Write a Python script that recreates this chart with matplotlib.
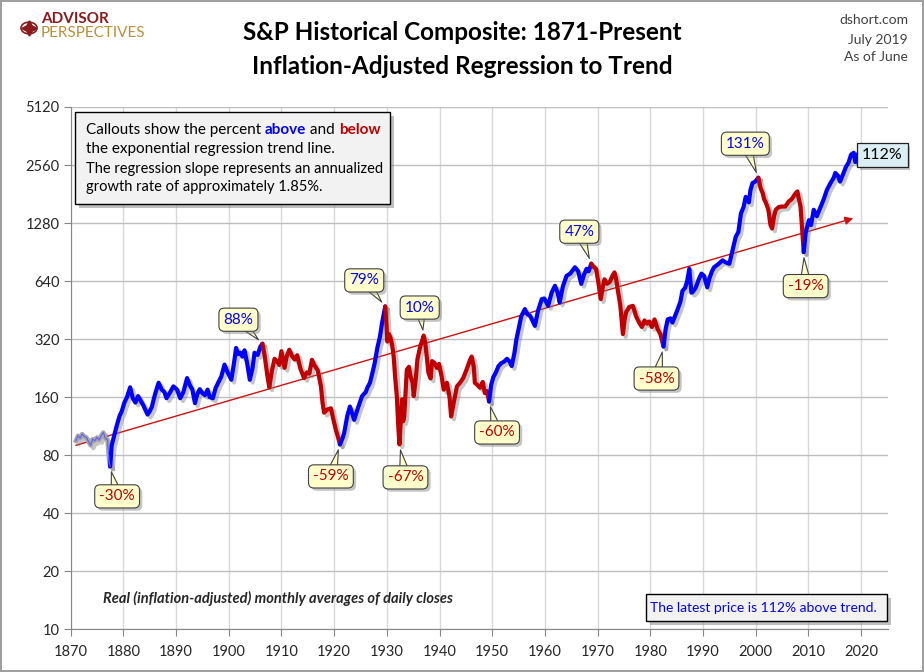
import numpy as np
import matplotlib
matplotlib.use("Agg")
import matplotlib.pyplot as plt
import matplotlib.patheffects as pe
from matplotlib.patches import FancyBboxPatch, Circle
from matplotlib.text import Annotation

plt.rcParams["font.family"] = ["Lato", "DejaVu Sans"]

# real (inflation-adjusted) S&P composite
years = [
    1871.0, 1871.4, 1871.8, 1872.2, 1872.6, 1873.0, 1873.4, 1873.8, 1874.2, 1874.6,
    1875.0, 1875.4, 1875.8, 1876.2, 1876.6, 1877.0, 1877.3, 1877.5, 1877.8, 1878.3,
    1878.8, 1879.3, 1879.7, 1880.2, 1880.7, 1881.3, 1881.8, 1882.3, 1882.8, 1883.2,
    1883.8, 1884.6, 1885.0, 1885.4, 1886.0, 1886.7, 1887.3, 1887.8, 1888.2, 1888.8,
    1889.5, 1890.2, 1890.8, 1891.4, 1892.1, 1892.6, 1893.1, 1893.6, 1894.0, 1894.5,
    1895.0, 1895.5, 1896.0, 1896.4, 1897.0, 1897.5, 1898.0, 1898.6, 1899.2, 1899.7,
    1900.5, 1901.0, 1901.4, 1901.8, 1902.2, 1902.6, 1903.0, 1903.5, 1904.0, 1904.5,
    1904.9, 1905.5, 1906.0, 1906.4, 1906.8, 1907.3, 1907.7, 1908.2, 1908.7, 1909.2,
    1909.6, 1910.0, 1910.6, 1911.0, 1911.5, 1912.0, 1912.5, 1913.0, 1913.6, 1914.3,
    1914.8, 1915.3, 1915.8, 1916.2, 1916.9, 1917.5, 1917.8, 1918.1, 1918.7, 1919.4,
    1919.7, 1920.3, 1920.7, 1921.1, 1921.6, 1921.9, 1922.5, 1923.0, 1923.5, 1923.8,
    1924.5, 1925.3, 1926.0, 1926.3, 1926.8, 1927.2, 1927.7, 1928.2, 1928.7, 1929.1,
    1929.7, 1929.9, 1930.1, 1930.4, 1930.7, 1931.0, 1931.3, 1931.6, 1931.9, 1932.2,
    1932.4, 1932.7, 1932.9, 1933.1, 1933.3, 1933.8, 1934.2, 1934.5, 1934.9, 1935.1,
    1935.5, 1935.8, 1936.3, 1937.0, 1937.3, 1937.9, 1938.3, 1938.6, 1939.1, 1939.5,
    1939.9, 1940.4, 1940.8, 1941.4, 1941.9, 1942.2, 1942.7, 1943.3, 1943.9, 1944.5,
    1945.2, 1945.8, 1946.1, 1946.5, 1946.7, 1947.2, 1947.7, 1948.2, 1948.6, 1949.0,
    1949.4, 1949.8, 1950.2, 1950.7, 1951.2, 1951.7, 1952.3, 1952.8, 1953.3, 1953.7,
    1954.2, 1954.6, 1955.0, 1955.5, 1956.2, 1956.7, 1957.2, 1957.8, 1958.1, 1958.7,
    1959.4, 1959.9, 1960.6, 1961.3, 1961.9, 1962.4, 1962.8, 1963.4, 1964.1, 1964.8,
    1965.7, 1966.3, 1966.9, 1967.4, 1967.9, 1968.3, 1968.8, 1969.2, 1969.7, 1970.1,
    1970.6, 1971.0, 1971.3, 1971.8, 1972.3, 1972.8, 1973.2, 1973.5, 1973.8, 1974.3,
    1974.8, 1975.1, 1975.4, 1976.0, 1976.7, 1977.3, 1977.9, 1978.4, 1978.9, 1979.4,
    1979.8, 1980.3, 1980.8, 1981.4, 1981.9, 1982.5, 1982.9, 1983.3, 1983.8, 1984.2,
    1984.7, 1985.2, 1985.7, 1986.1, 1986.6, 1987.0, 1987.4, 1987.8, 1988.0, 1988.6,
    1989.2, 1989.7, 1990.2, 1990.8, 1991.2, 1991.7, 1992.1, 1992.8, 1993.7, 1994.3,
    1995.0, 1995.5, 1996.2, 1996.7, 1997.2, 1997.7, 1998.1, 1998.7, 1999.0, 1999.4,
    1999.9, 2000.2, 2000.5, 2000.9, 2001.3, 2001.6, 2001.9, 2002.4, 2002.8, 2003.1,
    2003.5, 2003.8, 2004.4, 2005.0, 2005.6, 2006.3, 2006.8, 2007.4, 2007.9, 2008.2,
    2008.5, 2008.8, 2009.1, 2009.5, 2010.1, 2010.5, 2011.0, 2011.6, 2012.0, 2012.9,
    2013.5, 2014.2, 2014.8, 2015.1, 2015.6, 2016.0, 2016.6, 2017.1, 2017.6, 2018.1,
    2018.6, 2018.9, 2019.1, 2019.5,
]
prices = [
    95, 101, 98, 103, 100, 99, 94, 90, 97, 95,
    99, 96, 101, 105, 98, 96, 75, 70, 90, 102,
    115, 128, 135, 150, 160, 180, 158, 150, 162, 155,
    145, 130, 135, 142, 165, 190, 175, 170, 158, 168,
    182, 175, 158, 170, 201, 185, 175, 149, 165, 176,
    168, 164, 175, 160, 158, 178, 190, 205, 236, 218,
    197, 240, 288, 268, 272, 260, 280, 240, 197, 225,
    272, 265, 292, 303, 265, 210, 180, 220, 253, 245,
    235, 277, 227, 260, 282, 262, 251, 264, 225, 201,
    215, 212, 250, 236, 220, 182, 150, 133, 138, 140,
    128, 109, 100, 91, 98, 104, 128, 143, 130, 122,
    140, 162, 170, 179, 190, 210, 240, 288, 330, 388,
    473, 400, 311, 340, 325, 300, 260, 200, 162, 110,
    91, 130, 156, 120, 127, 222, 230, 205, 190, 162,
    200, 251, 290, 334, 305, 214, 200, 246, 240, 227,
    238, 205, 175, 190, 160, 127, 150, 182, 190, 201,
    225, 250, 260, 230, 190, 185, 179, 192, 168, 172,
    152, 185, 203, 215, 232, 240, 245, 253, 245, 232,
    270, 320, 360, 420, 458, 430, 423, 390, 375, 450,
    516, 520, 476, 560, 605, 560, 496, 600, 681, 700,
    755, 720, 619, 690, 741, 720, 788, 760, 741, 640,
    516, 600, 654, 620, 633, 680, 710, 660, 581, 480,
    340, 400, 441, 470, 476, 420, 389, 370, 400, 385,
    395, 370, 405, 360, 340, 293, 360, 405, 410, 390,
    423, 458, 500, 570, 590, 642, 741, 557, 560, 590,
    654, 700, 681, 594, 660, 720, 755, 780, 820, 800,
    787, 900, 1085, 1150, 1438, 1550, 1750, 1640, 1900, 2065,
    2100, 2150, 2200, 1950, 1835, 1700, 1640, 1500, 1250, 1200,
    1400, 1500, 1550, 1560, 1560, 1660, 1700, 1800, 1868, 1700,
    1560, 1200, 905, 1150, 1325, 1250, 1500, 1390, 1480, 1700,
    1900, 2065, 2200, 2330, 2250, 2100, 2300, 2500, 2630, 2900,
    2965, 2650, 2800, 2950,
]

# bull / bear phases (peak and trough years)
phase_breaks = [1871.0, 1877.5, 1906.4, 1921.1, 1929.7, 1949.4, 1968.8, 1982.5, 2000.5, 2009.1, 2019.5]
phase_kinds = ["early", "up", "down", "up", "down", "up", "down", "up", "down", "up"]

# exponential regression trend (end points)
trend_years = [1871.0, 2018.5]
trend_values = [90, 1355]

callout_labels = ["-30%", "88%", "-59%", "79%", "-67%", "10%", "-60%", "47%", "-58%", "131%", "-19%"]
callout_years = [1877.5, 1906.4, 1921.1, 1929.7, 1932.4, 1937.0, 1949.4, 1968.8, 1982.5, 2000.5, 2009.1]
latest_label = "112%"

y_ticks = [10, 20, 40, 80, 160, 320, 640, 1280, 2560, 5120]
x_ticks = list(range(1870, 2021, 10))

BLUE = "#0000FF"
RED = "#C00000"
GRAY = "#A6A6A6"
kind_colors = {"early": GRAY, "up": BLUE, "down": RED}

W, H = 924, 672
fig = plt.figure(figsize=(W / 100, H / 100), dpi=100)
fig.patch.set_edgecolor("#A0A0A0")
fig.patch.set_linewidth(1.5)


def fx(px):
    return px / W


def fy(py):
    return 1 - py / H


ax = fig.add_axes([fx(70.6), fy(629.3), fx(888) - fx(70.6), fy(107) - fy(629.3)])
ax.set_yscale("log", base=2)
ax.set_ylim(10, 5120)
ax.set_xlim(1870, 2025.1)

ax.set_yticks(y_ticks, [str(v) for v in y_ticks])
ax.set_xticks(x_ticks, [str(v) for v in x_ticks])
ax.minorticks_off()
ax.yaxis.grid(True, color="#BFBFBF", lw=1)
ax.xaxis.grid(True, color="#D9D9D9", lw=1)
ax.set_axisbelow(True)
for side in ("top", "right"):
    ax.spines[side].set_visible(False)
for side in ("left", "bottom"):
    ax.spines[side].set_color("#868686")
ax.tick_params(axis="both", colors="#868686", labelcolor="#262626", labelsize=10.5, length=5)
ax.tick_params(axis="x", pad=6)
ax.tick_params(axis="y", pad=3)

yr = np.array(years)
pr = np.array(prices, dtype=float)

shadow = [pe.SimpleLineShadow(offset=(2, -2), shadow_color="#808080", alpha=0.45), pe.Normal()]

# trend line with arrow head
ax.annotate(
    "", xy=(trend_years[1], trend_values[1]), xytext=(trend_years[0], trend_values[0]),
    arrowprops=dict(arrowstyle="-|>", color="#D01010", lw=1.0, mutation_scale=12, shrinkA=0, shrinkB=0),
    zorder=3,
)

for a, b, kind in zip(phase_breaks[:-1], phase_breaks[1:], phase_kinds):
    m = (yr >= a) & (yr <= b)
    if kind == "early":
        ax.plot(yr[m], pr[m], color=GRAY, lw=3.2, solid_joinstyle="round", zorder=4, path_effects=shadow)
        ax.plot(yr[m], pr[m], color="#6060FF", lw=0.8, zorder=4.5)
    else:
        ax.plot(yr[m], pr[m], color=kind_colors[kind], lw=3.0, solid_joinstyle="round",
                solid_capstyle="round", zorder=4, path_effects=shadow)

# callouts
callout_offsets = [(7, -30), (-24, 24), (-9, -32), (-21, 26), (6, -33), (-4, 28),
                   (8, -31), (-12, 32), (-7, -32), (-13, 34), (2, -34)]
box_shadow = [pe.withSimplePatchShadow(offset=(2, -2), shadow_rgbFace="#808080", alpha=0.45)]
for lab, cy, off in zip(callout_labels, callout_years, callout_offsets):
    val = np.interp(cy, yr, pr)
    col = RED if lab.startswith("-") else BLUE
    ann = ax.annotate(
        lab, xy=(cy, val), xytext=off, textcoords="offset pixels",
        ha="center", va="center", fontsize=11, color=col, zorder=8,
        bbox=dict(boxstyle="round,pad=0.3,rounding_size=0.35", fc="#FFFFCC", ec="#404040", lw=0.8),
        arrowprops=dict(arrowstyle="wedge,tail_width=0.8,shrink_factor=0.5", fc="#FFFFCC",
                        ec="#404040", lw=0.8, patchA=None, shrinkA=0, shrinkB=4),
    )
    ann.get_bbox_patch().set_path_effects(box_shadow)

latest = ax.annotate(
    latest_label, xy=(years[-1], prices[-1]), xytext=(24, -2), textcoords="offset pixels",
    ha="center", va="center", fontsize=11.5, color="#000000", zorder=8,
    bbox=dict(boxstyle="square,pad=0.3", fc="#DAEEF3", ec="#202020", lw=0.9),
)
latest.get_bbox_patch().set_path_effects(box_shadow)

# info box (top left)
info = FancyBboxPatch((fx(75), fy(204)), fx(390) - fx(75), fy(112) - fy(204),
                      boxstyle="square,pad=0", transform=fig.transFigure,
                      fc="#F2F2F2", ec="#000000", lw=1, zorder=5)
info.set_path_effects([pe.withSimplePatchShadow(offset=(3, -3), shadow_rgbFace="#808080", alpha=0.5)])
fig.add_artist(info)


def chained(parts, x, y, size):
    prev = fig.text(x, y, parts[0][0], color=parts[0][1], fontweight=parts[0][2],
                    fontsize=size, va="bottom", ha="left", zorder=6)
    for s, c, w in parts[1:]:
        prev = fig.add_artist(Annotation(s, xy=(1, 0), xycoords=prev, va="bottom", ha="left",
                                         color=c, fontweight=w, fontsize=size, zorder=6))


chained([("Callouts show the percent ", "#000000", "normal"), ("above", BLUE, "bold"),
         (" and ", "#000000", "normal"), ("below", RED, "bold")], fx(86), fy(137), 11)
fig.text(fx(86), fy(156), "the exponential regression trend line.", fontsize=11, va="bottom", zorder=6)
fig.text(fx(86), fy(176), "The regression slope represents an annualized", fontsize=10.5, va="bottom", zorder=6)
fig.text(fx(86), fy(194), "growth rate of approximately 1.85%.", fontsize=10.5, va="bottom", zorder=6)

# bottom notes
fig.text(fx(103), fy(598), "Real (inflation-adjusted) monthly averages of daily closes",
         fontsize=10.5, fontweight="bold", fontstyle="italic", color="#262626", va="center")
note = FancyBboxPatch((fx(646), fy(621)), fx(887) - fx(646), fy(594) - fy(621),
                      boxstyle="square,pad=0", transform=fig.transFigure,
                      fc="#F2F2F2", ec="#000000", lw=1, zorder=5)
note.set_path_effects([pe.withSimplePatchShadow(offset=(3, -3), shadow_rgbFace="#808080", alpha=0.5)])
fig.add_artist(note)
fig.text(fx(763), fy(607.5), "The latest price is 112% above trend.", fontsize=10,
         color=BLUE, ha="center", va="center", zorder=6)

# titles and header
fig.text(0.5, fy(33), "S&P Historical Composite: 1871-Present", fontsize=17.5, fontweight="bold",
         ha="center", va="center")
fig.text(0.5, fy(66), "Inflation-Adjusted Regression to Trend", fontsize=17.5, fontweight="bold",
         ha="center", va="center")
for txt, py in (("dshort.com", 20), ("July 2019", 40), ("As of June", 57)):
    fig.text(fx(908), fy(py), txt, fontsize=10, color="#404040", ha="right", va="center")

# logo
fig.add_artist(Circle((fx(29), fy(28)), 8 / W, transform=fig.transFigure, fc="none", ec="#8B1A1A", lw=1.2))
fig.add_artist(plt.Line2D([fx(29)], [fy(28)], marker=(4, 1, 0), markersize=11, color="#8B1A1A",
                          transform=fig.transFigure))
fig.text(fx(41), fy(19), "ADVISOR", fontsize=11, fontweight="bold", color="#8B1A1A", va="center")
fig.text(fx(41), fy(33), "PERSPECTIVES", fontsize=11, color="#B8913A", va="center")

fig.savefig("out.png", dpi=100)
